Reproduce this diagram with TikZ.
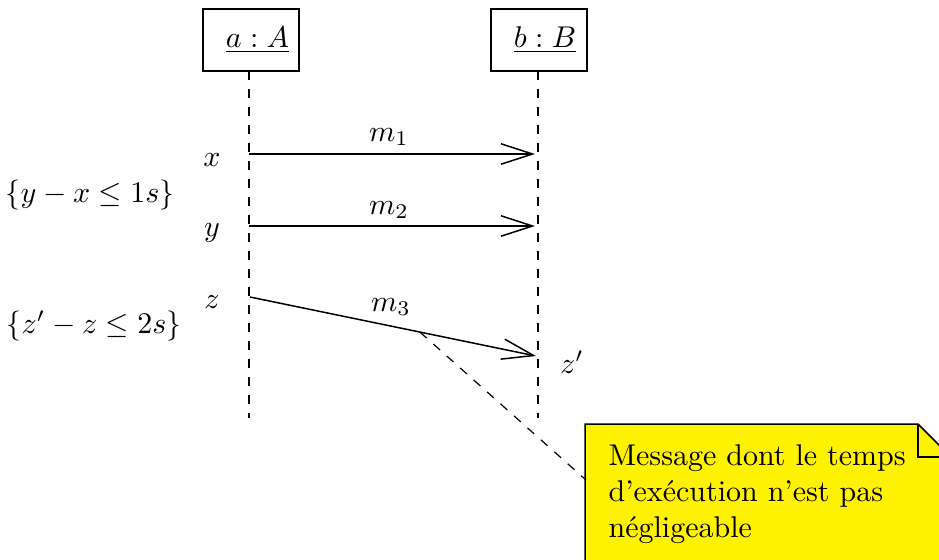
\documentclass[tikz,border=0pt]{standalone}
\usetikzlibrary{arrows.meta,calc}
\begin{document}
\begin{tikzpicture}[x=0.3333pt,y=-0.3333pt,
  objbox/.style={draw, line width=0.5pt, minimum width=32pt, minimum height=20.6pt, inner sep=0pt},
  lifeline/.style={dashed, line width=0.4pt},
  msg/.style={line width=0.5pt, -{Straight Barb[length=10.5pt,width=6.8pt,line width=0.5pt]}},
  lbl/.style={inner sep=0pt, font=\normalsize},
  notebox/.style={draw, fill=yellow, line width=0.5pt},
  notelink/.style={dashed, line width=0.4pt}]
\useasboundingbox (0,0) rectangle (939,559);
\clip (0,0) rectangle (939,559);
% objects
\node[objbox] (a) at (251,40) {};
\node[objbox] (b) at (539,40) {};
\node[lbl, anchor=base] (aL) at (257.5,47) {\underline{$a:A$}};
\node[lbl, anchor=base] (bL) at (545,47) {\underline{$b:B$}};
% lifelines
\coordinate (aTop) at (249,71);
\coordinate (aBot) at (249,418);
\coordinate (bTop) at (538,71);
\coordinate (bBot) at (538,418);
\draw[lifeline] (aTop) -- (aBot);
\draw[lifeline] (bTop) -- (bBot);
% messages
\coordinate (m1s) at (249,154);
\coordinate (m1e) at (535,154);
\coordinate (m2s) at (249,226);
\coordinate (m2e) at (535,226);
\coordinate (m3s) at (250,297);
\coordinate (m3e) at (536,356);
\draw[msg] (m1s) -- (m1e);
\draw[msg] (m2s) -- (m2e);
\draw[msg] (m3s) -- (m3e);
\node[lbl] (m1) at (389,137) {$m_1$};
\node[lbl] (m2) at (389,210) {$m_2$};
\node[lbl] (m3) at (391,307) {$m_3$};
% time labels
\node[lbl] (tx) at (212,160) {$x$};
\node[lbl] (ty) at (212,233) {$y$};
\node[lbl] (tz) at (212,302) {$z$};
\node[lbl] (tzp) at (572,362) {$z'$};
\node[lbl] (c1) at (90,195) {$\{y-x\leq 1s\}$};
\node[lbl] (c2) at (94,326) {$\{z'-z\leq 2s\}$};
% note
\coordinate (nA) at (585,424);
\coordinate (nB) at (918,424);
\coordinate (nC) at (951,457);
\coordinate (nD) at (951,600);
\coordinate (nE) at (585,600);
\draw[notebox] (nA) -- (nB) -- (nC) -- (nD) -- (nE) -- cycle;
\coordinate (nF) at (918,457);
\draw[line width=0.5pt] (nB) -- (nF) -- (nC);
\node[lbl, anchor=north west, align=left, text width=110pt] (note) at (608,444)
  {Message dont le temps\\ d'exécution n'est pas\\ négligeable};
% link from m3 to note
\coordinate (lk1) at ($(m3s)!0.594!(m3e)$);
\coordinate (lk2) at (586,480);
\draw[notelink] (lk1) -- (lk2);
\end{tikzpicture}
\end{document}
